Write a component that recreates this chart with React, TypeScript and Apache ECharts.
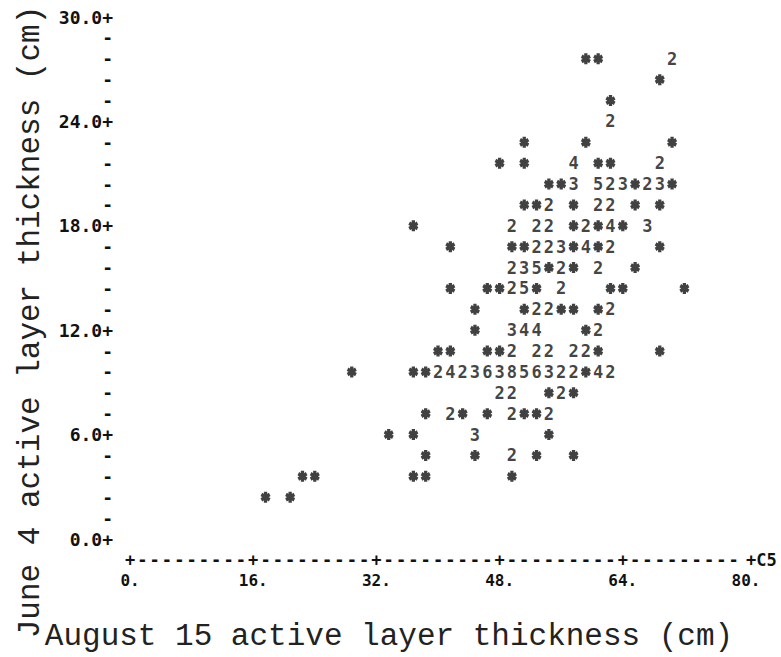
import React, { useEffect, useRef } from "react";
import * as echarts from "echarts";

// Axis set-up (line-printer plot: 1.6 cm per column, 1.2 cm per row)
const X_MIN = 0;
const X_MAX = 80;
const X_STEP = 1.6;
const Y_MIN = 0;
const Y_MAX = 30;
const Y_STEP = 1.2;

const xMajorValues = [0, 16, 32, 48, 64, 80];
const xMajorLabels = ["0.", "16.", "32.", "48.", "64.", "80."];
const yMajorValues = [0, 6, 12, 18, 24, 30];
const yMajorLabels = ["0.0+", "6.0+", "12.0+", "18.0+", "24.0+", "30.0+"];
const xVariableCode = "C5";

const xTitle = "August 15 active layer thickness (cm)";
const yTitle = "June 4 active layer thickness (cm)";

// Single observations, printed as "*"  [August 15, June 4]
const singleObservations: [number, number][] = [
  [59.2, 27.6], [60.8, 27.6],
  [68.8, 26.4],
  [62.4, 25.2],
  [51.2, 22.8], [59.2, 22.8], [70.4, 22.8],
  [48.0, 21.6], [51.2, 21.6], [60.8, 21.6], [62.4, 21.6],
  [54.4, 20.4], [56.0, 20.4], [65.6, 20.4], [70.4, 20.4],
  [51.2, 19.2], [52.8, 19.2], [57.6, 19.2], [65.6, 19.2], [68.8, 19.2],
  [36.8, 18.0], [57.6, 18.0], [60.8, 18.0], [64.0, 18.0],
  [41.6, 16.8], [49.6, 16.8], [51.2, 16.8], [57.6, 16.8], [60.8, 16.8], [68.8, 16.8],
  [54.4, 15.6], [57.6, 15.6], [65.6, 15.6],
  [41.6, 14.4], [46.4, 14.4], [48.0, 14.4], [52.8, 14.4], [62.4, 14.4], [64.0, 14.4], [72.0, 14.4],
  [44.8, 13.2], [51.2, 13.2], [56.0, 13.2], [57.6, 13.2], [60.8, 13.2],
  [44.8, 12.0], [59.2, 12.0],
  [40.0, 10.8], [41.6, 10.8], [46.4, 10.8], [48.0, 10.8], [60.8, 10.8], [68.8, 10.8],
  [28.8, 9.6], [36.8, 9.6], [38.4, 9.6], [59.2, 9.6],
  [54.4, 8.4], [57.6, 8.4],
  [38.4, 7.2], [43.2, 7.2], [46.4, 7.2], [51.2, 7.2], [52.8, 7.2],
  [33.6, 6.0], [36.8, 6.0], [54.4, 6.0],
  [38.4, 4.8], [44.8, 4.8], [52.8, 4.8], [57.6, 4.8],
  [22.4, 3.6], [24.0, 3.6], [36.8, 3.6], [38.4, 3.6], [49.6, 3.6],
  [17.6, 2.4], [20.8, 2.4],
];

// Coincident observations, printed as their count  [August 15, June 4, count]
const stackedObservations: [number, number, number][] = [
  [70.4, 27.6, 2],
  [62.4, 24.0, 2],
  [57.6, 21.6, 4], [68.8, 21.6, 2],
  [57.6, 20.4, 3], [60.8, 20.4, 5], [62.4, 20.4, 2], [64.0, 20.4, 3], [67.2, 20.4, 2], [68.8, 20.4, 3],
  [54.4, 19.2, 2], [60.8, 19.2, 2], [62.4, 19.2, 2],
  [49.6, 18.0, 2], [52.8, 18.0, 2], [54.4, 18.0, 2], [59.2, 18.0, 2], [62.4, 18.0, 4], [67.2, 18.0, 3],
  [52.8, 16.8, 2], [54.4, 16.8, 2], [56.0, 16.8, 3], [59.2, 16.8, 4], [62.4, 16.8, 2],
  [49.6, 15.6, 2], [51.2, 15.6, 3], [52.8, 15.6, 5], [56.0, 15.6, 2], [60.8, 15.6, 2],
  [49.6, 14.4, 2], [51.2, 14.4, 5], [56.0, 14.4, 2],
  [52.8, 13.2, 2], [54.4, 13.2, 2], [62.4, 13.2, 2],
  [49.6, 12.0, 3], [51.2, 12.0, 4], [52.8, 12.0, 4], [60.8, 12.0, 2],
  [49.6, 10.8, 2], [52.8, 10.8, 2], [54.4, 10.8, 2], [57.6, 10.8, 2], [59.2, 10.8, 2],
  [40.0, 9.6, 2], [41.6, 9.6, 4], [43.2, 9.6, 2], [44.8, 9.6, 3], [46.4, 9.6, 6], [48.0, 9.6, 3],
  [49.6, 9.6, 8], [51.2, 9.6, 5], [52.8, 9.6, 6], [54.4, 9.6, 3], [56.0, 9.6, 2], [57.6, 9.6, 2],
  [60.8, 9.6, 4], [62.4, 9.6, 2],
  [48.0, 8.4, 2], [49.6, 8.4, 2], [56.0, 8.4, 2],
  [41.6, 7.2, 2], [49.6, 7.2, 2], [54.4, 7.2, 2],
  [44.8, 6.0, 3],
  [49.6, 4.8, 2],
];

const INK = "#111111";
const PRINT_FONT = "DejaVu Sans Mono";
const TYPE_FONT = "Liberation Mono";

const ASTERISK =
  "path://M3.48,0L6.88,0L6.88,10L3.48,10Z" +
  "M8.66,1.028L10.36,3.972L1.7,8.972L0,6.028Z" +
  "M10.36,6.028L8.66,8.972L0,3.972L1.7,1.028Z";

function majorIndex(v: number, majors: number[]): number {
  for (let i = 0; i < majors.length; i++) {
    if (Math.abs(v - majors[i]) < 1e-6) return i;
  }
  return -1;
}

export default function App() {
  const ref = useRef<HTMLDivElement>(null);

  useEffect(() => {
    if (!ref.current) return;
    const chart = echarts.init(ref.current, undefined, { renderer: "svg" });

    const printLabel = {
      fontFamily: PRINT_FONT,
      fontWeight: "bold" as const,
      fontSize: 17,
      color: INK,
    };

    chart.setOption({
      animation: false,
      backgroundColor: "#ffffff",
      grid: { left: 130, right: 35, top: 17, bottom: 118, containLabel: false },
      xAxis: [
        {
          type: "value",
          min: X_MIN,
          max: X_MAX,
          interval: X_STEP,
          position: "bottom",
          axisLine: { show: false },
          axisTick: { show: false },
          splitLine: { show: false },
          axisLabel: {
            ...printLabel,
            margin: 12,
            alignMaxLabel: "left",
            formatter: (v: number) => {
              const i = majorIndex(v, xMajorValues);
              if (i < 0) return "-";
              return Math.abs(v - X_MAX) < 1e-6 ? "+" + xVariableCode : "+";
            },
          },
        },
        {
          type: "value",
          min: X_MIN,
          max: X_MAX,
          interval: 16,
          position: "bottom",
          axisLine: { show: false },
          axisTick: { show: false },
          splitLine: { show: false },
          axisLabel: {
            ...printLabel,
            fontSize: 16,
            margin: 33,
            formatter: (v: number) => {
              const i = majorIndex(v, xMajorValues);
              return i < 0 ? "" : xMajorLabels[i];
            },
          },
        },
      ],
      yAxis: {
        type: "value",
        min: Y_MIN,
        max: Y_MAX,
        interval: Y_STEP,
        axisLine: { show: false },
        axisTick: { show: false },
        splitLine: { show: false },
        axisLabel: {
          ...printLabel,
          fontSize: 18,
          margin: 17,
          formatter: (v: number) => {
            const i = majorIndex(v, yMajorValues);
            return i < 0 ? "-" : yMajorLabels[i];
          },
        },
      },
      series: [
        {
          type: "scatter",
          xAxisIndex: 0,
          yAxisIndex: 0,
          data: singleObservations,
          symbol: ASTERISK,
          symbolSize: [10, 11],
          itemStyle: { color: INK },
          silent: true,
        },
        {
          type: "scatter",
          xAxisIndex: 0,
          yAxisIndex: 0,
          data: stackedObservations,
          symbol: "rect",
          symbolSize: 1,
          itemStyle: { color: "rgba(0,0,0,0)" },
          silent: true,
          label: {
            show: true,
            position: "inside",
            ...printLabel,
            fontSize: 17,
            formatter: (p: any) => String(p.value[2]),
          },
        },
      ],
      graphic: [
        {
          type: "text",
          x: 389,
          y: 636,
          style: {
            text: xTitle,
            font: `31px "${TYPE_FONT}"`,
            fill: "#222222",
            align: "center",
            verticalAlign: "middle",
          },
        },
        {
          type: "text",
          x: 30,
          y: 322,
          rotation: Math.PI / 2,
          style: {
            text: yTitle,
            font: `31px "${TYPE_FONT}"`,
            fill: "#222222",
            align: "center",
            verticalAlign: "middle",
          },
        },
      ],
    });

    return () => chart.dispose();
  }, []);

  return (
    <div
      ref={ref}
      style={{ position: "absolute", left: 0, top: 0, width: 781, height: 657, background: "#fff" }}
    />
  );
}
